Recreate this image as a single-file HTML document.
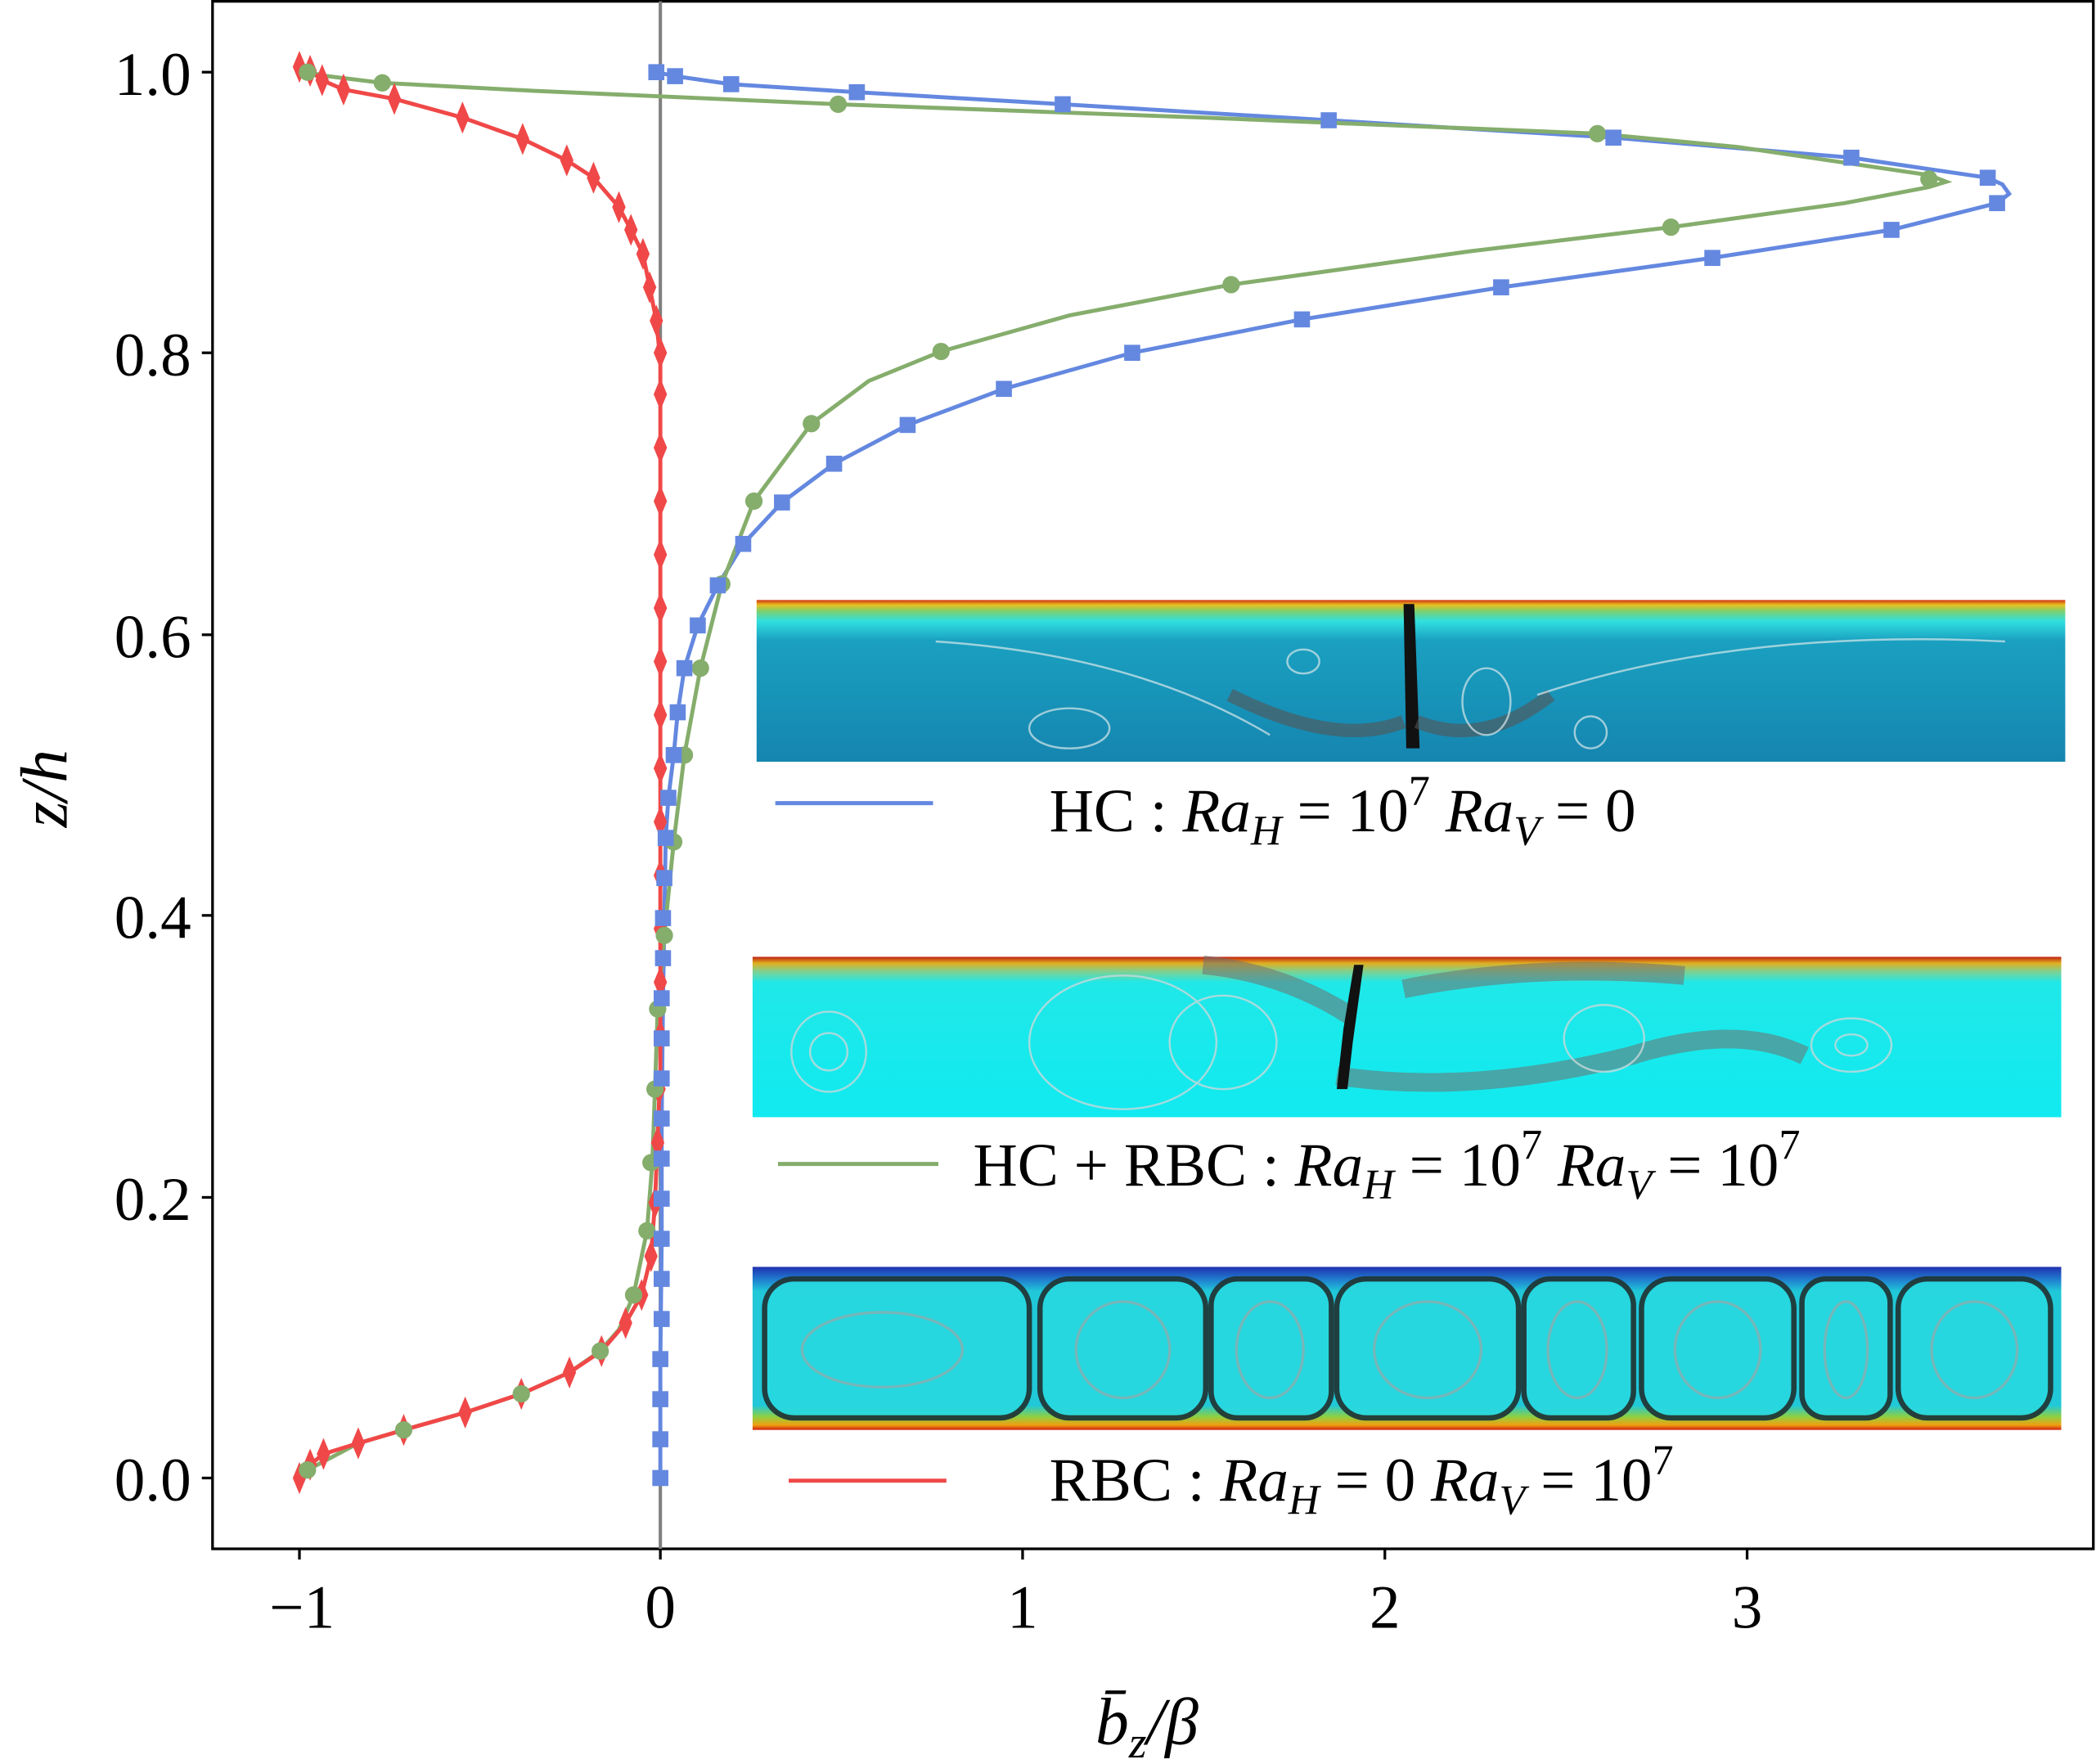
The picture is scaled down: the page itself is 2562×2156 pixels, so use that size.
<!DOCTYPE html>
<html><head><meta charset="utf-8"><style>html,body{margin:0;padding:0;background:#fff}svg{display:block}</style></head><body>
<svg width="2562" height="2156" viewBox="0 0 1568 1320" preserveAspectRatio="none" xmlns="http://www.w3.org/2000/svg" font-family="Liberation Serif, serif">
<defs>
<linearGradient id="g1" x1="0" y1="0" x2="0" y2="1">
<stop offset="0" stop-color="#d03010"/><stop offset="0.03" stop-color="#e8c020"/><stop offset="0.07" stop-color="#7ad070"/><stop offset="0.13" stop-color="#30e0e0"/><stop offset="0.25" stop-color="#1aa0c0"/><stop offset="1" stop-color="#1585b0"/></linearGradient>
<linearGradient id="g2" x1="0" y1="0" x2="0" y2="1">
<stop offset="0" stop-color="#c02010"/><stop offset="0.04" stop-color="#e0b020"/><stop offset="0.09" stop-color="#80d090"/><stop offset="0.16" stop-color="#20e8e8"/><stop offset="1" stop-color="#10eaf0"/></linearGradient>
<linearGradient id="g3" x1="0" y1="0" x2="0" y2="1">
<stop offset="0" stop-color="#2030b0"/><stop offset="0.08" stop-color="#2080d0"/><stop offset="0.15" stop-color="#20c8d8"/><stop offset="0.85" stop-color="#20c8d8"/><stop offset="0.92" stop-color="#90d040"/><stop offset="0.97" stop-color="#f0a010"/><stop offset="1" stop-color="#d02010"/></linearGradient>
</defs>
<!-- axes -->
<rect x="159" y="1" width="1407" height="1158" fill="none" stroke="#000" stroke-width="2"/>
<line x1="494" y1="1" x2="494" y2="1159" stroke="#808080" stroke-width="2.5"/>
<g stroke="#000" stroke-width="2">
<line x1="224" y1="1159" x2="224" y2="1167"/><line x1="494" y1="1159" x2="494" y2="1167"/><line x1="765" y1="1159" x2="765" y2="1167"/><line x1="1036" y1="1159" x2="1036" y2="1167"/><line x1="1307" y1="1159" x2="1307" y2="1167"/>
<line x1="151" y1="54" x2="159" y2="54"/><line x1="151" y1="264" x2="159" y2="264"/><line x1="151" y1="475" x2="159" y2="475"/><line x1="151" y1="685" x2="159" y2="685"/><line x1="151" y1="896" x2="159" y2="896"/><line x1="151" y1="1106" x2="159" y2="1106"/>
</g>
<g font-size="46" text-anchor="end">
<text x="143" y="71">1.0</text><text x="143" y="281">0.8</text><text x="143" y="492">0.6</text><text x="143" y="702">0.4</text><text x="143" y="913">0.2</text><text x="143" y="1123">0.0</text>
</g>
<g font-size="46" text-anchor="middle">
<text x="226" y="1218">−1</text><text x="494" y="1218">0</text><text x="765" y="1218">1</text><text x="1036" y="1218">2</text><text x="1307" y="1218">3</text>
</g>
<text x="858" y="1305" font-size="50" font-style="italic" text-anchor="middle">b̄<tspan font-size="34" dy="10">z</tspan><tspan dy="-10">/β</tspan></text>
<text transform="translate(50,590) rotate(-90)" font-size="50" font-style="italic" text-anchor="middle">z/h</text>

<!-- insets -->
<rect x="566" y="449" width="979" height="121" fill="url(#g1)"/>
<path d="M1050 452 L1058 452 L1062 560 L1052 560 Z" fill="#111"/>
<path d="M920 520 Q1000 560 1050 540 M1060 540 Q1110 560 1160 520" stroke="#555" stroke-width="10" fill="none" opacity="0.6"/>
<g fill="none" stroke="#d8e8ea" stroke-width="1.5" opacity="0.7"><ellipse cx="1112" cy="525" rx="18" ry="25"/><ellipse cx="1190" cy="548" rx="12" ry="12"/><ellipse cx="975" cy="495" rx="12" ry="9"/><ellipse cx="800" cy="545" rx="30" ry="15"/><path d="M700 480 Q850 490 950 550 M1150 520 Q1300 470 1500 480"/></g>
<rect x="563" y="716" width="979" height="120" fill="url(#g2)"/>
<g fill="none" stroke="#707070" stroke-width="14" opacity="0.55"><path d="M900 722 Q960 728 1010 760 M1000 805 Q1100 820 1220 790 Q1300 765 1350 790 M1050 740 Q1150 720 1260 730"/></g>
<path d="M1013 722 L1020 722 L1012 780 L1008 815 L1000 815 L1005 770 Z" fill="#111"/>
<g fill="none" stroke="#c8d8da" stroke-width="1.5" opacity="0.8"><ellipse cx="620" cy="787" rx="28" ry="30"/><ellipse cx="620" cy="787" rx="14" ry="14"/><ellipse cx="915" cy="780" rx="40" ry="35"/><ellipse cx="1200" cy="777" rx="30" ry="25"/><ellipse cx="1385" cy="782" rx="30" ry="20"/><ellipse cx="1385" cy="782" rx="12" ry="8"/><ellipse cx="840" cy="780" rx="70" ry="50"/></g>
<rect x="563" y="948" width="979" height="122" fill="url(#g3)"/>
<g fill="#28d8e0" stroke="#203838" stroke-width="4" opacity="0.95">
<rect x="572" y="957" width="198" height="104" rx="22"/>
<rect x="778" y="957" width="124" height="104" rx="22"/>
<rect x="906" y="957" width="90" height="104" rx="20"/>
<rect x="1000" y="957" width="136" height="104" rx="22"/>
<rect x="1140" y="957" width="82" height="104" rx="20"/>
<rect x="1228" y="957" width="114" height="104" rx="22"/>
<rect x="1348" y="957" width="66" height="104" rx="18"/>
<rect x="1420" y="957" width="114" height="104" rx="22"/>
</g>
<g fill="none" stroke="#9aa8a8" stroke-width="2" opacity="0.7">
<ellipse cx="660" cy="1010" rx="60" ry="28"/><ellipse cx="840" cy="1010" rx="35" ry="36"/><ellipse cx="950" cy="1010" rx="25" ry="36"/><ellipse cx="1068" cy="1010" rx="40" ry="36"/><ellipse cx="1180" cy="1010" rx="22" ry="36"/><ellipse cx="1285" cy="1010" rx="32" ry="36"/><ellipse cx="1381" cy="1010" rx="16" ry="36"/><ellipse cx="1477" cy="1010" rx="32" ry="36"/>
</g>

<!-- legend -->
<line x1="580" y1="601" x2="698" y2="601" stroke="#6488e0" stroke-width="3"/>
<line x1="582" y1="871" x2="702" y2="871" stroke="#85ad6c" stroke-width="3"/>
<line x1="590" y1="1108" x2="708" y2="1108" stroke="#f04848" stroke-width="3"/>
<g font-size="46">
<text x="785" y="622">HC : <tspan font-style="italic">Ra</tspan><tspan font-style="italic" font-size="32" dy="10">H</tspan><tspan dy="-10"> = 10</tspan><tspan font-size="32" dy="-20">7</tspan><tspan dy="20" font-style="italic"> Ra</tspan><tspan font-style="italic" font-size="32" dy="10">V</tspan><tspan dy="-10"> = 0</tspan></text>
<text x="728" y="887">HC + RBC : <tspan font-style="italic">Ra</tspan><tspan font-style="italic" font-size="32" dy="10">H</tspan><tspan dy="-10"> = 10</tspan><tspan font-size="32" dy="-20">7</tspan><tspan dy="20" font-style="italic"> Ra</tspan><tspan font-style="italic" font-size="32" dy="10">V</tspan><tspan dy="-10"> = 10</tspan><tspan font-size="32" dy="-20">7</tspan></text>
<text x="785" y="1123">RBC : <tspan font-style="italic">Ra</tspan><tspan font-style="italic" font-size="32" dy="10">H</tspan><tspan dy="-10"> = 0 </tspan><tspan font-style="italic">Ra</tspan><tspan font-style="italic" font-size="32" dy="10">V</tspan><tspan dy="-10"> = 10</tspan><tspan font-size="32" dy="-20">7</tspan></text>
</g>

<!-- series lines -->
<polyline fill="none" stroke="#6488e0" stroke-width="3" points="494,1106 494,1017 495,927 495,837 496,747 497,687 498,627 500,597 504,565 507,533 512,500 522,468 537,438 556,407 585,376 624,347 679,318 751,291 847,264 974,239 1123,215 1281,193 1415,172 1494,152 1503,145 1498,138 1487,133 1385,118 1207,103 994,90 795,78 641,69 547,63 505,57 491,54"/>
<polyline fill="none" stroke="#85ad6c" stroke-width="3" points="224,1106 230,1100 268,1080 302,1070 348,1057 390,1043 426,1027 449,1011 463,995 474,969 484,921 488,870 490,815 492,755 497,700 504,630 512,565 524,500 540,437 564,375 607,317 650,285 704,263 800,236 921,213 1100,188 1250,170 1380,152 1443,140 1456,136 1443,131 1300,110 1195,100 900,88 627,78 400,68 286,62 245,57 230,54"/>
<polyline fill="none" stroke="#f04848" stroke-width="3" points="224,1106 232,1096 242,1088 268,1080 302,1070 348,1057 390,1043 426,1027 450,1011 468,990 480,969 487,940 490,900 492,850 494,800 494,270 491,240 486,215 481,190 472,172 463,155 444,133 424,120 391,104 346,88 295,74 257,67 241,60 232,53 224,50"/>

<!-- markers -->
<g fill="#f04848">
<path d="M224 1094 l5 12 l-5 12 l-5 -12z"/><path d="M232 1084 l5 12 l-5 12 l-5 -12z"/><path d="M242 1076 l5 12 l-5 12 l-5 -12z"/><path d="M268 1068 l5 12 l-5 12 l-5 -12z"/><path d="M302 1058 l5 12 l-5 12 l-5 -12z"/><path d="M348 1045 l5 12 l-5 12 l-5 -12z"/><path d="M390 1031 l5 12 l-5 12 l-5 -12z"/><path d="M426 1015 l5 12 l-5 12 l-5 -12z"/><path d="M450 999 l5 12 l-5 12 l-5 -12z"/><path d="M468 978 l5 12 l-5 12 l-5 -12z"/><path d="M480 957 l5 12 l-5 12 l-5 -12z"/><path d="M487 928 l5 12 l-5 12 l-5 -12z"/><path d="M490 888 l5 12 l-5 12 l-5 -12z"/><path d="M492 843 l5 12 l-5 12 l-5 -12z"/><path d="M493 803 l5 12 l-5 12 l-5 -12z"/><path d="M494 763 l5 12 l-5 12 l-5 -12z"/><path d="M494 723 l5 12 l-5 12 l-5 -12z"/><path d="M494 683 l5 12 l-5 12 l-5 -12z"/><path d="M494 643 l5 12 l-5 12 l-5 -12z"/><path d="M494 603 l5 12 l-5 12 l-5 -12z"/><path d="M494 563 l5 12 l-5 12 l-5 -12z"/><path d="M494 523 l5 12 l-5 12 l-5 -12z"/><path d="M494 483 l5 12 l-5 12 l-5 -12z"/><path d="M494 443 l5 12 l-5 12 l-5 -12z"/><path d="M494 403 l5 12 l-5 12 l-5 -12z"/><path d="M494 363 l5 12 l-5 12 l-5 -12z"/><path d="M494 323 l5 12 l-5 12 l-5 -12z"/><path d="M494 283 l5 12 l-5 12 l-5 -12z"/><path d="M494 252 l5 12 l-5 12 l-5 -12z"/><path d="M491 228 l5 12 l-5 12 l-5 -12z"/><path d="M486 203 l5 12 l-5 12 l-5 -12z"/><path d="M481 178 l5 12 l-5 12 l-5 -12z"/><path d="M472 160 l5 12 l-5 12 l-5 -12z"/><path d="M463 143 l5 12 l-5 12 l-5 -12z"/><path d="M444 121 l5 12 l-5 12 l-5 -12z"/><path d="M424 108 l5 12 l-5 12 l-5 -12z"/><path d="M391 92 l5 12 l-5 12 l-5 -12z"/><path d="M346 76 l5 12 l-5 12 l-5 -12z"/><path d="M295 62 l5 12 l-5 12 l-5 -12z"/><path d="M257 55 l5 12 l-5 12 l-5 -12z"/><path d="M241 48 l5 12 l-5 12 l-5 -12z"/><path d="M232 41 l5 12 l-5 12 l-5 -12z"/><path d="M224 38 l5 12 l-5 12 l-5 -12z"/>
</g>
<g fill="#85ad6c">
<circle cx="230" cy="54" r="6.5"/><circle cx="286" cy="62" r="6.5"/><circle cx="627" cy="78" r="6.5"/><circle cx="1195" cy="100" r="6.5"/><circle cx="1443" cy="134" r="6.5"/><circle cx="1250" cy="170" r="6.5"/><circle cx="921" cy="213" r="6.5"/><circle cx="704" cy="263" r="6.5"/><circle cx="607" cy="317" r="6.5"/><circle cx="564" cy="375" r="6.5"/><circle cx="540" cy="437" r="6.5"/><circle cx="524" cy="500" r="6.5"/><circle cx="512" cy="565" r="6.5"/><circle cx="504" cy="630" r="6.5"/><circle cx="497" cy="700" r="6.5"/><circle cx="492" cy="755" r="6.5"/><circle cx="490" cy="815" r="6.5"/><circle cx="487" cy="870" r="6.5"/><circle cx="484" cy="921" r="6.5"/><circle cx="474" cy="969" r="6.5"/><circle cx="449" cy="1011" r="6.5"/><circle cx="390" cy="1043" r="6.5"/><circle cx="302" cy="1070" r="6.5"/><circle cx="230" cy="1100" r="6.5"/>
</g>
<g fill="#6488e0">
<rect x="485" y="48" width="12" height="12"/><rect x="499" y="51" width="12" height="12"/><rect x="541" y="57" width="12" height="12"/><rect x="635" y="63" width="12" height="12"/><rect x="789" y="72" width="12" height="12"/><rect x="988" y="84" width="12" height="12"/><rect x="1201" y="97" width="12" height="12"/><rect x="1379" y="112" width="12" height="12"/><rect x="1481" y="127" width="12" height="12"/><rect x="1488" y="146" width="12" height="12"/><rect x="1409" y="166" width="12" height="12"/><rect x="1275" y="187" width="12" height="12"/><rect x="1117" y="209" width="12" height="12"/><rect x="968" y="233" width="12" height="12"/><rect x="841" y="258" width="12" height="12"/><rect x="745" y="285" width="12" height="12"/><rect x="673" y="312" width="12" height="12"/><rect x="618" y="341" width="12" height="12"/><rect x="579" y="370" width="12" height="12"/><rect x="550" y="401" width="12" height="12"/><rect x="531" y="432" width="12" height="12"/><rect x="516" y="462" width="12" height="12"/><rect x="506" y="494" width="12" height="12"/><rect x="501" y="527" width="12" height="12"/><rect x="498" y="559" width="12" height="12"/><rect x="494" y="591" width="12" height="12"/><rect x="492" y="621" width="12" height="12"/><rect x="491" y="651" width="12" height="12"/><rect x="490" y="681" width="12" height="12"/><rect x="490" y="711" width="12" height="12"/><rect x="489" y="741" width="12" height="12"/><rect x="489" y="771" width="12" height="12"/><rect x="489" y="801" width="12" height="12"/><rect x="489" y="831" width="12" height="12"/><rect x="489" y="861" width="12" height="12"/><rect x="489" y="891" width="12" height="12"/><rect x="489" y="921" width="12" height="12"/><rect x="489" y="951" width="12" height="12"/><rect x="489" y="981" width="12" height="12"/><rect x="488" y="1011" width="12" height="12"/><rect x="488" y="1041" width="12" height="12"/><rect x="488" y="1071" width="12" height="12"/><rect x="488" y="1100" width="12" height="12"/>
</g>
</svg>
</body></html>
